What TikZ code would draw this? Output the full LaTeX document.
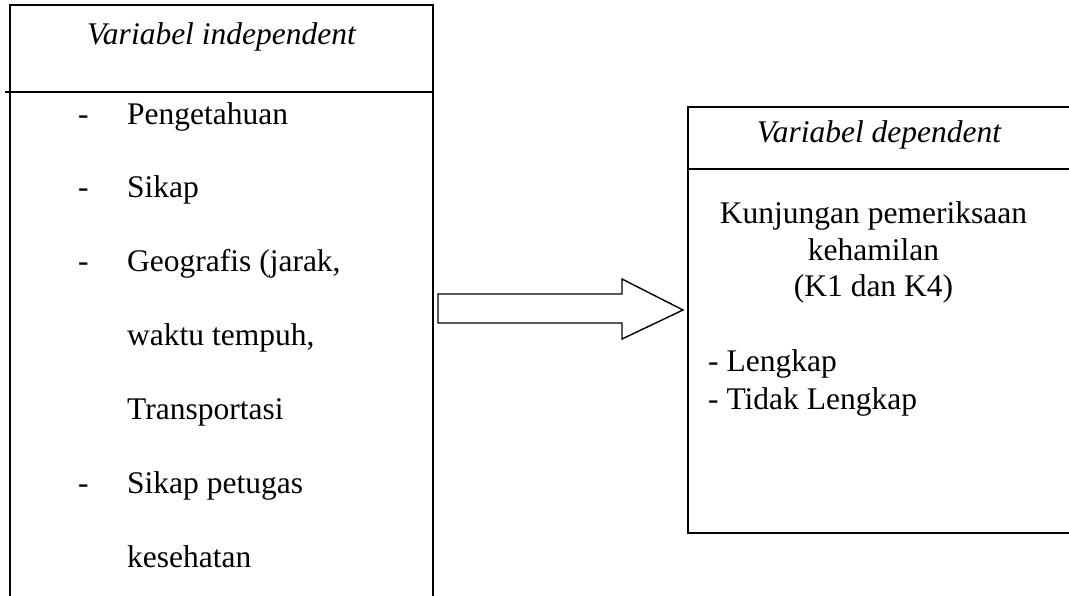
\documentclass[tikz,border=0pt]{standalone}
\usepackage{fontspec}
\setmainfont{Liberation Serif}
\begin{document}
\begin{tikzpicture}[x=1pt,y=-1pt,
  boxline/.style={draw=black,line width=1.7pt},
  txt/.style={inner sep=0pt,font=\fontsize{31.5}{36}\selectfont},
  hdr/.style={txt,anchor=base,font=\fontsize{31.5}{36}\selectfont\itshape},
  item/.style={txt,anchor=base west},
  bigarrow/.style={draw=black,line width=1.4pt,fill=white,line join=miter}]
\useasboundingbox (0,0) rectangle (1069,596);
% left box (open at the bottom, runs past the page)
\coordinate (LTL) at (10,5);
\coordinate (LTR) at (433,5);
\draw[boxline] (10,620) -- (LTL) -- (LTR) -- (433,620);
\coordinate (LsepA) at (5,92);
\coordinate (LsepB) at (433,92);
\draw[boxline] (LsepA) -- (LsepB);
\node[hdr] (lhead) at (221.5,45) {Variabel independent};
\node[item] (d1) at (78,125) {-};
\node[item] (i1) at (127,125) {Pengetahuan};
\node[item] (d2) at (78,198) {-};
\node[item] (i2) at (127,198) {Sikap};
\node[item] (d3) at (78,272) {-};
\node[item] (i3) at (127,272) {Geografis (jarak,};
\node[item] (i4) at (127,345) {waktu tempuh,};
\node[item] (i5) at (127,419) {Transportasi};
\node[item] (d6) at (78,493) {-};
\node[item] (i6) at (127,493) {Sikap petugas};
\node[item] (i7) at (127,567) {kesehatan};
% right box (its right side lies just past the page)
\node[boxline,anchor=north west,minimum width=388pt,minimum height=426pt,inner sep=0pt] (rbox) at (687,106) {};
\coordinate (RsepA) at (687,169);
\coordinate (RsepB) at (1075,169);
\draw[boxline] (RsepA) -- (RsepB);
\node[hdr] (rhead) at (879,143) {Variabel dependent};
\node[txt,anchor=base] (r1) at (873.5,224) {Kunjungan pemeriksaan};
\node[txt,anchor=base] (r2) at (873.5,261) {kehamilan};
\node[txt,anchor=base] (r3) at (873.5,297) {(K1 dan K4)};
\node[item] (r4) at (708,371) {- Lengkap};
\node[item] (r5) at (708,409) {- Tidak Lengkap};
% block arrow from left box to right box
\coordinate (aT) at (683,310);
\draw[bigarrow] (438,294) -- (622,294) -- (622,279) -- (aT) -- (622,339) -- (622,323) -- (438,323) -- cycle;
\end{tikzpicture}
\end{document}
